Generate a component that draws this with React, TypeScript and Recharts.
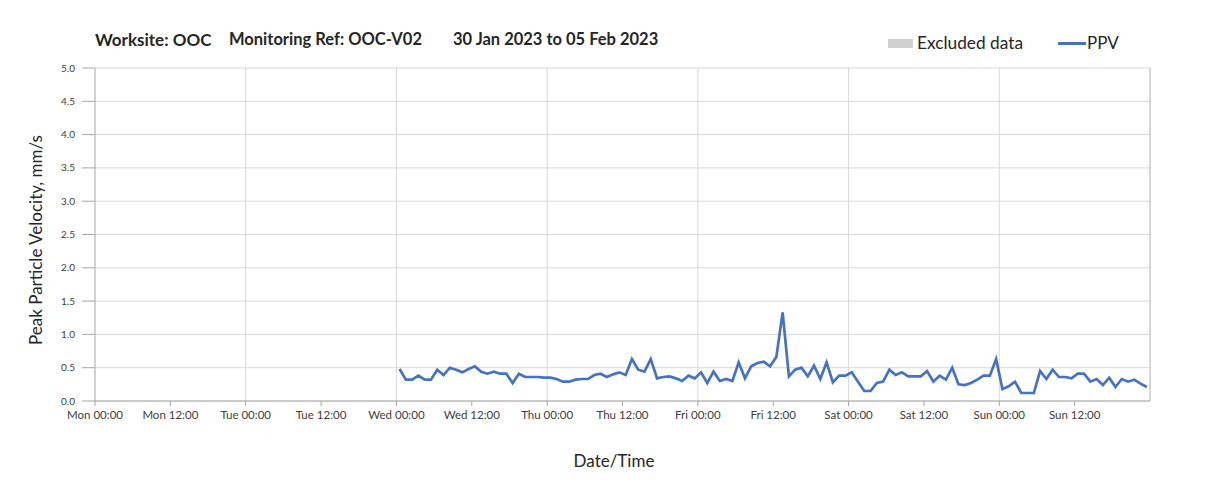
import React from "react";
import { CartesianGrid, Line, LineChart, ReferenceLine, XAxis, YAxis } from "recharts";

// hours since Mon 00:00; readings hourly from Wed 00:30
const START_HOUR = 48.5;
const STEP_HOURS = 1;

const ppv = [
  0.48, 0.32, 0.32, 0.38, 0.32, 0.32, 0.47, 0.39, 0.5, 0.47,
  0.43, 0.48, 0.52, 0.44, 0.41, 0.44, 0.41, 0.41, 0.27, 0.41,
  0.36, 0.36, 0.36, 0.35, 0.35, 0.33, 0.29, 0.29, 0.32, 0.33,
  0.33, 0.39, 0.41, 0.36, 0.4, 0.43, 0.39, 0.63, 0.47, 0.44,
  0.63, 0.34, 0.36, 0.37, 0.34, 0.3, 0.38, 0.34, 0.43, 0.27,
  0.44, 0.3, 0.33, 0.3, 0.58, 0.34, 0.52, 0.57, 0.59, 0.52,
  0.66, 1.33, 0.37, 0.47, 0.5, 0.37, 0.53, 0.33, 0.58, 0.28,
  0.38, 0.38, 0.43, 0.29, 0.15, 0.15, 0.27, 0.29, 0.47, 0.39,
  0.43, 0.37, 0.37, 0.37, 0.45, 0.29, 0.38, 0.32, 0.5, 0.25,
  0.24, 0.27, 0.32, 0.38, 0.38, 0.63, 0.18, 0.22, 0.29, 0.12,
  0.12, 0.12, 0.45, 0.33, 0.47, 0.36, 0.36, 0.34, 0.41, 0.41,
  0.29, 0.33, 0.24, 0.35, 0.21, 0.33, 0.29, 0.32, 0.26, 0.21,
];

const days = ["Mon", "Tue", "Wed", "Thu", "Fri", "Sat", "Sun"];
const xTicks = [0, 12, 24, 36, 48, 60, 72, 84, 96, 108, 120, 132, 144, 156];
const dayLines = [24, 48, 72, 96, 120, 144, 168];
const yTicks = [0, 0.5, 1, 1.5, 2, 2.5, 3, 3.5, 4, 4.5, 5];

const data = ppv.map((v, i) => ({ t: START_HOUR + i * STEP_HOURS, ppv: v }));

const font = "Lato, 'Noto Sans', sans-serif";
const text = "#262626";

const fmtX = (h: number) => `${days[Math.floor(h / 24) % 7]} ${h % 24 === 0 ? "00:00" : "12:00"}`;

export default function App() {
  return (
    <div style={{ position: "relative", width: 1192, height: 478, fontFamily: font, color: text }}>
      <div
        style={{
          position: "absolute",
          left: -3,
          top: -1,
          width: 1196,
          height: 484,
          border: "1px solid #e6e6e6",
          boxSizing: "border-box",
        }}
      />
      <LineChart
        width={1192}
        height={478}
        data={data}
        margin={{ top: 60, right: 50, left: 27, bottom: 55 }}
        style={{ position: "absolute", left: 0, top: 0 }}
      >
        <CartesianGrid vertical={false} stroke="#d9d9d9" />
        {dayLines.map((d) => (
          <ReferenceLine key={d} x={d} stroke={d === 168 ? "#b0b0b0" : "#d9d9d9"} />
        ))}
        <XAxis
          dataKey="t"
          type="number"
          domain={[0, 168]}
          ticks={xTicks}
          tickFormatter={fmtX}
          height={30}
          tickSize={5}
          tickMargin={5}
          stroke="#a6a6a6"
          tick={{ fill: "#404040", fontSize: 11.5, fontFamily: font }}
          interval={0}
        />
        <YAxis
          type="number"
          domain={[0, 5]}
          ticks={yTicks}
          tickFormatter={(v: number) => v.toFixed(1)}
          width={60}
          tickSize={13}
          tickMargin={7}
          stroke="#a6a6a6"
          tick={{ fill: "#404040", fontSize: 10, fontFamily: font }}
          interval={0}
        />
        <Line
          type="linear"
          dataKey="ppv"
          stroke="#4472c4"
          strokeWidth={2.7}
          dot={false}
          isAnimationActive={false}
        />
      </LineChart>

      <div style={{ position: "absolute", top: 21, left: 87, fontSize: 17, fontWeight: 700, whiteSpace: "nowrap" }}>
        Worksite: OOC
      </div>
      <div style={{ position: "absolute", top: 21, left: 221, fontSize: 16.5, fontWeight: 700, whiteSpace: "nowrap" }}>
        Monitoring Ref: OOC-V02
      </div>
      <div style={{ position: "absolute", top: 21, left: 445, fontSize: 16.5, fontWeight: 700, whiteSpace: "nowrap" }}>
        30 Jan 2023 to 05 Feb 2023
      </div>

      <div style={{ position: "absolute", left: 880, top: 31, width: 25, height: 9, background: "#d0d0d0" }} />
      <div style={{ position: "absolute", left: 909, top: 24, fontSize: 17.3, whiteSpace: "nowrap" }}>
        Excluded data
      </div>
      <div style={{ position: "absolute", left: 1050, top: 34, width: 28, height: 3, background: "#4472c4" }} />
      <div style={{ position: "absolute", left: 1079, top: 24, fontSize: 17, whiteSpace: "nowrap" }}>PPV</div>

      <div
        style={{
          position: "absolute",
          left: 606,
          top: 452,
          transform: "translate(-50%, -50%)",
          fontSize: 17,
          whiteSpace: "nowrap",
        }}
      >
        Date/Time
      </div>
      <div
        style={{
          position: "absolute",
          left: 27,
          top: 232,
          transform: "translate(-50%, -50%) rotate(-90deg)",
          fontSize: 17,
          whiteSpace: "nowrap",
        }}
      >
        Peak Particle Velocity, mm/s
      </div>
    </div>
  );
}
